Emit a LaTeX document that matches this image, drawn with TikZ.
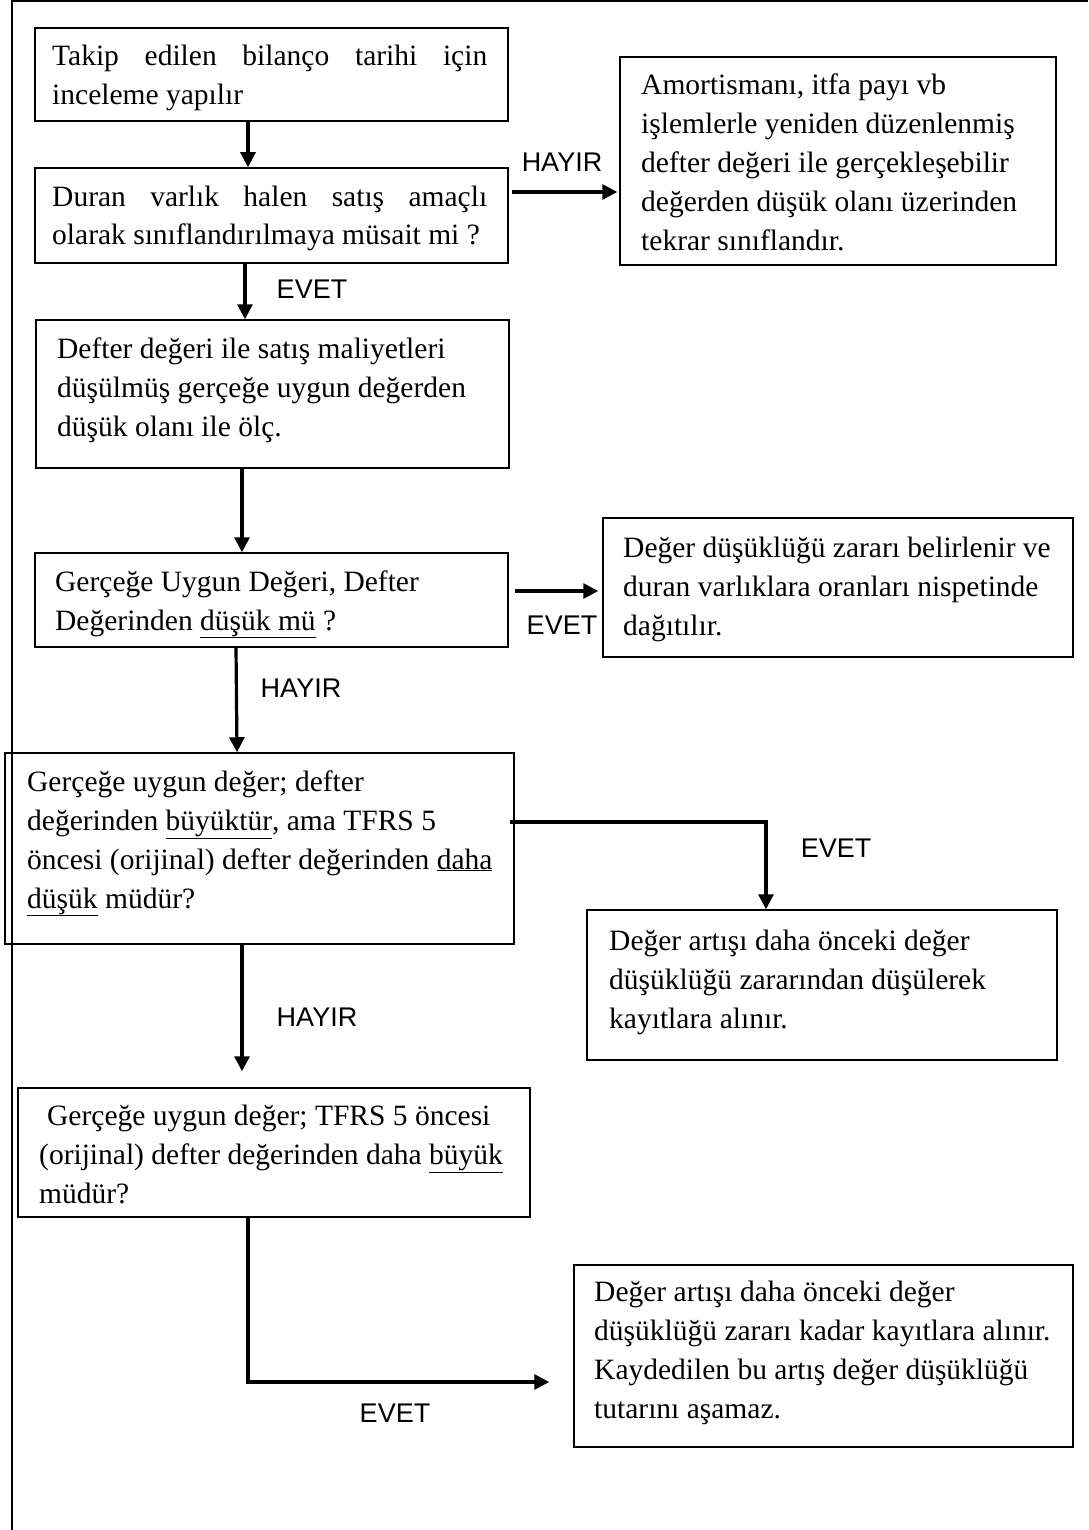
\documentclass[tikz,border=0pt]{standalone}
\usepackage{fontspec}
\setmainfont{Liberation Serif}
\newfontfamily\labelfont{Liberation Sans}
\usetikzlibrary{arrows.meta}

\begin{document}
\begin{tikzpicture}[x=1pt,y=-1pt,
  box/.style={draw, line width=1.5pt, inner sep=0pt},
  % text blocks are anchored at the baseline of their last line
  txt/.style={anchor=base west, align=left, inner sep=0pt,
              font=\fontsize{29.5}{39}\selectfont},
  lbl/.style={font=\labelfont\fontsize{27}{32}\selectfont, inner sep=0pt},
  arr/.style={line width=3.2pt, -{Triangle[length=15pt,width=15pt]}},
  frame/.style={line width=2.5pt}]

\useasboundingbox (0,0) rectangle (1088,1530);

% page frame (left and top edges)
\draw[frame] (12,1530) -- (12,1.25) -- (1088,1.25);

% boxes
\node[box, minimum width=473pt, minimum height=93pt]  (b1) at (271.5,74.5) {};
\node[box, minimum width=473pt, minimum height=95pt]  (b2) at (271.5,215.5) {};
\node[box, minimum width=436pt, minimum height=208pt] (bA) at (838,161) {};
\node[box, minimum width=473pt, minimum height=148pt] (b3) at (272.5,394) {};
\node[box, minimum width=473pt, minimum height=94pt]  (b4) at (271.5,600) {};
\node[box, minimum width=470pt, minimum height=139pt] (bB) at (838,587.5) {};
\node[box, minimum width=509pt, minimum height=191pt] (b5) at (259.5,848.5) {};
\node[box, minimum width=470pt, minimum height=150pt] (bC) at (822,985) {};
\node[box, minimum width=512pt, minimum height=129pt] (b6) at (274,1152.5) {};
\node[box, minimum width=499pt, minimum height=182pt] (bD) at (823.5,1356) {};

% box texts
\node[txt] (t1) at (52,105) {\makebox[435pt][s]{Takip edilen bilanço tarihi için}\\
  inceleme yapılır};
\node[txt] (t2) at (52,245) {\makebox[435pt][s]{Duran varlık halen satış amaçlı}\\
  olarak sınıflandırılmaya müsait mi ?};
\node[txt] (tA) at (641,251) {Amortismanı, itfa payı vb\\ işlemlerle yeniden düzenlenmiş\\
  defter değeri ile gerçekleşebilir\\ değerden düşük olanı üzerinden\\ tekrar sınıflandır.};
\node[txt] (t3) at (57,436) {Defter değeri ile satış maliyetleri\\
  düşülmüş gerçeğe uygun değerden\\ düşük olanı ile ölç.};
\node[txt] (t4) at (55,630) {Gerçeğe Uygun Değeri, Defter\\
  Değerinden \underline{düşük mü} ?};
\node[txt] (tB) at (623,635) {Değer düşüklüğü zararı belirlenir ve\\
  duran varlıklara oranları nispetinde\\ dağıtılır.};
\node[txt] (t5) at (27,908) {Gerçeğe uygun değer; defter\\
  değerinden \underline{büyüktür}, ama TFRS 5\\
  öncesi (orijinal) defter değerinden \underline{daha}\\ \underline{düşük} müdür?};
\node[txt] (tC) at (609,1028) {Değer artışı daha önceki değer\\
  düşüklüğü zararından düşülerek\\ kayıtlara alınır.};
\node[txt] (t6) at (39,1203) {\hspace*{8pt}Gerçeğe uygun değer; TFRS 5 öncesi\\
  (orijinal) defter değerinden daha \underline{büyük}\\ müdür?};
\node[txt] (tD) at (594,1418) {Değer artışı daha önceki değer\\
  düşüklüğü zararı kadar kayıtlara alınır.\\ Kaydedilen bu artış değer düşüklüğü\\
  tutarını aşamaz.};

% connector end points
\coordinate (h1s) at ([shift={(3pt,23.5pt)}]b2.east);
\coordinate (e1s) at ([shift={(6pt,9pt)}]b4.east);
\coordinate (e2s) at ([shift={(-5pt,26.5pt)}]b5.east);
\coordinate (n5e) at ([shift={(-32pt,16pt)}]b6.north);
\coordinate (e3e) at ([shift={(-24pt,-26pt)}]bD.west);

% connectors
\draw[arr] ([xshift=-23.5pt]b1.south) -- ([xshift=-23.5pt]b2.north);
\draw[arr] ([xshift=-26.5pt]b2.south) -- ([xshift=-27.5pt]b3.north);
\draw[arr] ([xshift=-30.5pt]b3.south) -- ([xshift=-29.5pt]b4.north);
\draw[arr] ([xshift=-35.5pt]b4.south) -- ([xshift=-22.5pt]b5.north);
\draw[arr] ([xshift=-17.5pt]b5.south) -- (n5e);
\draw[arr] (h1s) -- ([xshift=-2pt]h1s -| bA.west);
\draw[arr] (e1s) -- ([xshift=-4pt]e1s -| bB.west);
\draw[arr] (e2s) -| ([xshift=-56pt]bC.north);
\draw[arr] ([xshift=-26pt]b6.south) |- (e3e);

% branch labels
\node[lbl] (l1) at (562,162) {HAYIR};
\node[lbl] (l2) at (312,289) {EVET};
\node[lbl] (l3) at (562,625) {EVET};
\node[lbl] (l4) at (301,688) {HAYIR};
\node[lbl] (l5) at (836,848) {EVET};
\node[lbl] (l6) at (317,1017) {HAYIR};
\node[lbl] (l7) at (395,1413) {EVET};

\end{tikzpicture}
\end{document}
